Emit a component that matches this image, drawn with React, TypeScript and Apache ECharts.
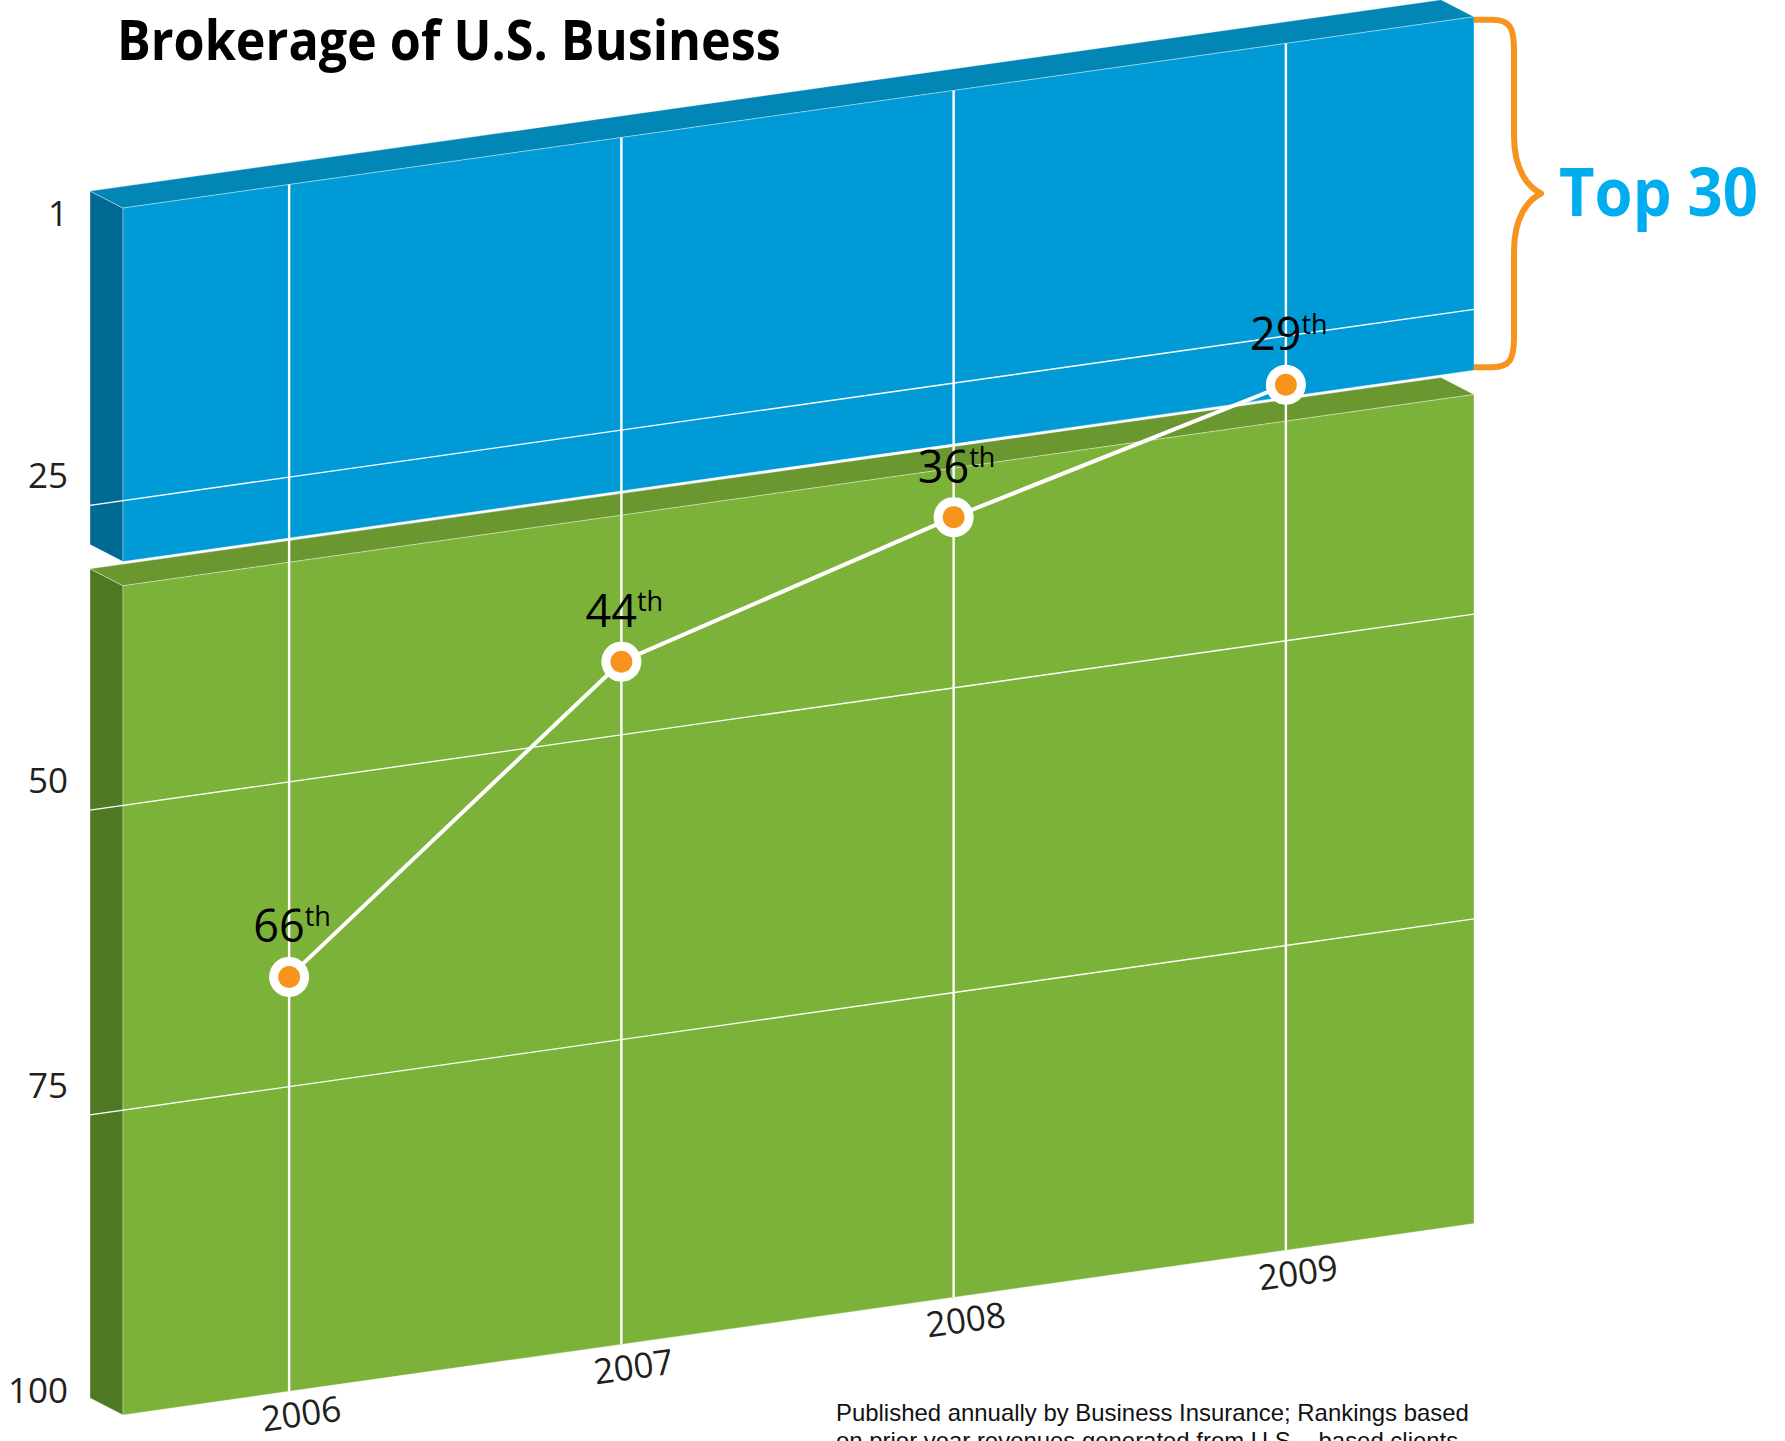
import React, { useEffect, useRef } from 'react';
import * as echarts from 'echarts';

// ---------- data ----------
const years = ['2006', '2007', '2008', '2009'];
const ranks = [66, 44, 36, 29];
const rankTicks = [1, 25, 50, 75, 100];
const blueBand = [1, 30];
const greenBand = [31, 100];
const titleText = 'Brokerage of U.S. Business';
const calloutText = 'Top 30';
const footnoteLines = [
  'Published annually by Business Insurance; Rankings based',
  'on prior year revenues generated from U.S. - based clients',
];

// ---------- layout / style ----------
const W = 1785;
const H = 1441;
const GRID_LEFT = 123;
const GRID_WIDTH = 1329;
const GRID_TOP = 185;
const GRID_HEIGHT = 1219;
const SKEW = 0.1416;
const XREF = 200;
const DEPTH_X = -33;
const DEPTH_Y = -17;
const BLOCK_RIGHT_EXTRA = 22;
const BAND_GAP = 12;
const FONT = '"Open Sans", "Noto Sans", sans-serif';
const ORANGE = '#f7941d';
const bandPalette = [
  { front: '#009bd6', top: '#0286b5', side: '#006a93' },
  { front: '#7cb239', top: '#6a9730', side: '#4e7822' },
];

function measure(text: string, font: string): number {
  const c = document.createElement('canvas').getContext('2d');
  if (!c) return 1;
  c.font = font;
  return c.measureText(text).width || 1;
}

const skewY = (yu: number, X: number) => yu - SKEW * (X - XREF);

function pt(api: any, cat: number, r: number): number[] {
  const p = api.coord([cat, r]);
  return [p[0], skewY(p[1], p[0])];
}

export default function App() {
  const ref = useRef<HTMLDivElement>(null);

  useEffect(() => {
    if (!ref.current) return;
    const chart = echarts.init(ref.current, undefined, { renderer: 'svg', width: W, height: H });

    const titleFont = `bold 55px ${FONT}`;
    const titleScale = 664 / measure(titleText, titleFont);
    const calloutFont = `bold 66px ${FONT}`;
    const calloutScale = 199 / measure(calloutText, calloutFont);
    const footFont = `24px "Liberation Sans", Arial, sans-serif`;
    const footScale = 633 / measure(footnoteLines[0], footFont);

    const bandSeries = {
      type: 'custom',
      name: 'bands',
      coordinateSystem: 'cartesian2d',
      encode: { x: 0, y: [1, 2] },
      data: [blueBand, greenBand].map((b) => [0, b[0], b[1]]),
      silent: true,
      z: 1,
      renderItem: (params: any, api: any) => {
        const cs = params.coordSys;
        const xl = cs.x;
        const xr = cs.x + cs.width + BLOCK_RIGHT_EXTRA;
        const idx = params.dataIndex;
        const pal = bandPalette[idx];
        const yu0 = api.coord([0, api.value(1)])[1] + (idx > 0 ? BAND_GAP : 0);
        const yu1 = api.coord([0, api.value(2)])[1];
        const fl = [xl, skewY(yu0, xl)];
        const fr = [xr, skewY(yu0, xr)];
        const br = [xr, skewY(yu1, xr)];
        const bl = [xl, skewY(yu1, xl)];
        const d = (p: number[]) => [p[0] + DEPTH_X, p[1] + DEPTH_Y];
        const edge = { stroke: 'rgba(255,255,255,0.35)', lineWidth: 1 };
        return {
          type: 'group',
          children: [
            { type: 'polygon', shape: { points: [d(fl), fl, bl, d(bl)] }, style: { fill: pal.side, ...edge } },
            { type: 'polygon', shape: { points: [d(fl), d(fr), fr, fl] }, style: { fill: pal.top, ...edge } },
            { type: 'polygon', shape: { points: [fl, fr, br, bl] }, style: { fill: pal.front, ...edge } },
          ],
        };
      },
    };

    const innerTicks = rankTicks.filter((t) => t > rankTicks[0] && t < rankTicks[rankTicks.length - 1]);
    const gridSeries = {
      type: 'custom',
      name: 'gridlines',
      coordinateSystem: 'cartesian2d',
      data: innerTicks.map((t) => [0, t]),
      silent: true,
      z: 2,
      renderItem: (params: any, api: any) => {
        const cs = params.coordSys;
        const x1 = cs.x + DEPTH_X;
        const x2 = cs.x + cs.width + BLOCK_RIGHT_EXTRA;
        const yu = api.coord([0, api.value(1)])[1];
        return {
          type: 'line',
          shape: { x1, y1: skewY(yu, x1), x2, y2: skewY(yu, x2) },
          style: { stroke: '#ffffff', lineWidth: 1.4 },
        };
      },
    };

    const yearSeries = {
      type: 'custom',
      name: 'years',
      coordinateSystem: 'cartesian2d',
      encode: { x: 0, y: [1, 2] },
      data: years.map((_, i) => [i, blueBand[0], greenBand[1]]),
      silent: true,
      z: 3,
      renderItem: (params: any, api: any) => {
        const cat = api.value(0);
        const top = pt(api, cat, api.value(1));
        const bot = pt(api, cat, api.value(2));
        const lx = bot[0] + 12;
        const ly = skewY(api.coord([0, api.value(2)])[1], lx) + 23;
        return {
          type: 'group',
          children: [
            {
              type: 'line',
              shape: { x1: top[0], y1: top[1], x2: bot[0], y2: bot[1] },
              style: { stroke: '#ffffff', lineWidth: 2.4 },
            },
            {
              type: 'text',
              x: lx,
              y: ly,
              rotation: Math.atan(SKEW),
              style: {
                text: years[params.dataIndex],
                x: 0,
                y: 0,
                fill: '#231f20',
                fontSize: 35,
                fontFamily: FONT,
                align: 'center',
                verticalAlign: 'middle',
                textAlign: 'center',
                textVerticalAlign: 'middle',
              },
            },
          ],
        };
      },
    };

    const bracketSeries = {
      type: 'custom',
      name: 'bracket',
      coordinateSystem: 'cartesian2d',
      encode: { x: 0, y: [1, 2] },
      data: [[0, blueBand[0], blueBand[1]]],
      silent: true,
      z: 4,
      renderItem: (params: any, api: any) => {
        const cs = params.coordSys;
        const xr = cs.x + cs.width + BLOCK_RIGHT_EXTRA;
        const yT = skewY(api.coord([0, api.value(1)])[1], xr) + 3;
        const yB = skewY(api.coord([0, api.value(2)])[1], xr) - 3;
        const sx = xr + 40;
        const tx = xr + 67;
        const mid = (yT + yB) / 2;
        const pd =
          `M ${xr} ${yT} L ${xr + 18} ${yT} ` +
          `C ${sx - 4} ${yT}, ${sx} ${yT + 8}, ${sx} ${yT + 30} ` +
          `L ${sx} ${mid - 58} ` +
          `C ${sx} ${mid - 22}, ${tx - 12} ${mid - 6}, ${tx} ${mid} ` +
          `C ${tx - 12} ${mid + 6}, ${sx} ${mid + 22}, ${sx} ${mid + 58} ` +
          `L ${sx} ${yB - 30} ` +
          `C ${sx} ${yB - 8}, ${sx - 4} ${yB}, ${xr + 18} ${yB} L ${xr} ${yB}`;
        return {
          type: 'path',
          shape: { pathData: pd },
          style: { stroke: ORANGE, lineWidth: 6, fill: 'none', lineJoin: 'round' },
        };
      },
    };

    const rankSeries = {
      type: 'custom',
      name: 'rank',
      coordinateSystem: 'cartesian2d',
      data: ranks.map((r, i) => [i, r]),
      silent: true,
      z: 5,
      renderItem: (params: any, api: any) => {
        const i = params.dataIndexInside;
        const v = api.value(1);
        const p = pt(api, api.value(0), v);
        const children: any[] = [];
        if (i + 1 < params.dataInsideLength) {
          const q = pt(api, api.value(0, i + 1), api.value(1, i + 1));
          children.push({
            type: 'line',
            shape: { x1: p[0], y1: p[1], x2: q[0], y2: q[1] },
            style: { stroke: '#ffffff', lineWidth: 4 },
          });
        }
        children.push({ type: 'circle', shape: { cx: p[0], cy: p[1], r: 20 }, style: { fill: '#ffffff' } });
        children.push({ type: 'circle', shape: { cx: p[0], cy: p[1], r: 11 }, style: { fill: ORANGE } });
        children.push({
          type: 'text',
          x: p[0] + 3,
          y: p[1] - 52,
          style: {
            text: `{n|${v}}{s|th}`,
            x: 0,
            y: 0,
            align: 'center',
            verticalAlign: 'middle',
            textAlign: 'center',
            textVerticalAlign: 'middle',
            rich: {
              n: { fontSize: 45, fontFamily: FONT, fill: '#000000', color: '#000000' },
              s: { fontSize: 27, fontFamily: FONT, fill: '#000000', color: '#000000', verticalAlign: 'top' },
            },
          },
        });
        return { type: 'group', children };
      },
    };

    const labelBase = { fontSize: 35, fontFamily: FONT, color: '#231f20' };

    const option: any = {
      animation: false,
      grid: {
        left: GRID_LEFT,
        top: GRID_TOP,
        width: GRID_WIDTH,
        height: GRID_HEIGHT,
        containLabel: false,
        outerBoundsMode: 'none',
      },
      xAxis: { type: 'category', data: years, show: false, boundaryGap: true },
      yAxis: {
        type: 'value',
        inverse: true,
        min: 0,
        max: 100,
        axisLine: { show: false },
        axisTick: { show: false },
        splitLine: { show: false },
        axisLabel: {
          show: true,
          customValues: rankTicks,
          margin: 55,
          formatter: (val: number) => (val === rankTicks[0] ? `{a|${val}}` : `{b|${val}}`),
          rich: {
            a: { ...labelBase, padding: [30, 0, 0, 0] },
            b: { ...labelBase, padding: [0, 0, 30, 0] },
          },
        },
      },
      series: [bandSeries, gridSeries, yearSeries, bracketSeries, rankSeries],
      graphic: [
        {
          type: 'text',
          x: 117,
          y: 39,
          scaleX: titleScale,
          style: {
            text: titleText,
            font: titleFont,
            fill: '#000000',
            align: 'left',
            verticalAlign: 'middle',
            textAlign: 'left',
            textVerticalAlign: 'middle',
          },
        },
        {
          type: 'text',
          x: 1559,
          y: 191,
          scaleX: calloutScale,
          style: {
            text: calloutText,
            font: calloutFont,
            fill: '#00aeef',
            align: 'left',
            verticalAlign: 'middle',
            textAlign: 'left',
            textVerticalAlign: 'middle',
          },
        },
        ...footnoteLines.map((t, i) => ({
          type: 'text',
          x: 836,
          y: 1412 + i * 28.5,
          scaleX: footScale,
          style: {
            text: t,
            font: footFont,
            fill: '#111111',
            align: 'left',
            verticalAlign: 'middle',
            textAlign: 'left',
            textVerticalAlign: 'middle',
          },
        })),
      ],
    };

    chart.setOption(option);
    return () => {
      chart.dispose();
    };
  }, []);

  return (
    <div
      ref={ref}
      style={{ position: 'absolute', left: 0, top: 0, width: W, height: H, background: '#ffffff' }}
    />
  );
}
